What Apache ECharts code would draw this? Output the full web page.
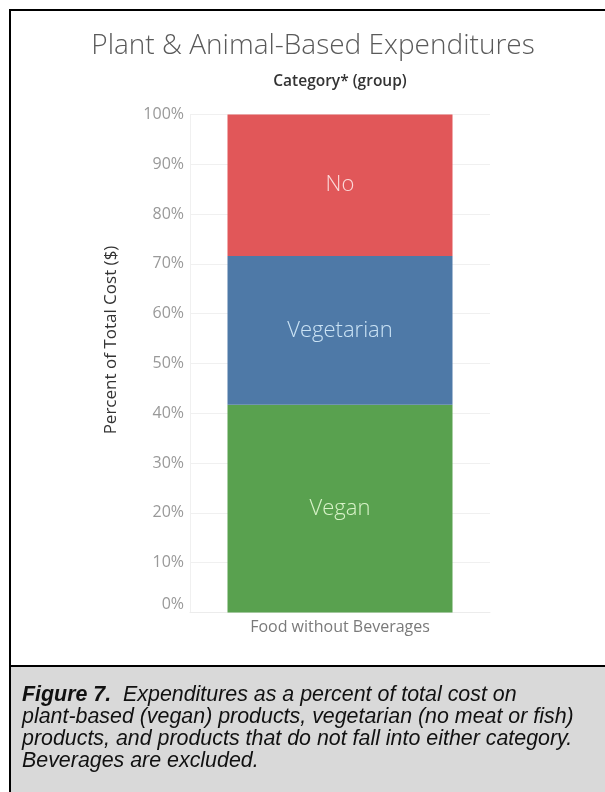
<!DOCTYPE html>
<html>
<head>
<meta charset="utf-8">
<script src="https://cdn.jsdelivr.net/npm/echarts@6/dist/echarts.min.js"></script>
<style>
  html, body { margin: 0; padding: 0; background: #fff; }
  #chart { width: 605px; height: 792px; }
</style>
</head>
<body>
<div id="chart"></div>
<script>
// ---- data ----
const categories = ['Food without Beverages'];
const seriesNames = ['Vegan', 'Vegetarian', 'No'];
const veganValues = [41.7];
const vegetarianValues = [29.9];
const noValues = [28.4];
const yTicks = { min: 0, max: 100, interval: 10 };

const colors = { Vegan: '#59A14F', Vegetarian: '#4E79A7', No: '#E15759' };
const labelColors = { Vegan: '#d8f3c8', Vegetarian: '#cbe3f5', No: '#fcdada' };
const valuesByName = { Vegan: veganValues, Vegetarian: vegetarianValues, No: noValues };

const chart = echarts.init(document.getElementById('chart'), null, { renderer: 'canvas' });

const series = seriesNames.map(name => ({
  name: name,
  type: 'bar',
  stack: 'total',
  barWidth: '75%',
  data: valuesByName[name],
  itemStyle: { color: colors[name] },
  label: {
    show: true,
    position: 'inside',
    formatter: name,
    color: labelColors[name],
    fontSize: 22,
    fontWeight: 300,
    fontFamily: 'Open Sans'
  },
  emphasis: { disabled: true }
}));

const option = {
  animation: false,
  backgroundColor: '#ffffff',
  title: {
    text: 'Plant & Animal-Based Expenditures',
    left: 308,
    top: 27,
    textAlign: 'center',
    textStyle: { fontFamily: 'Open Sans', fontWeight: 300, fontSize: 28, color: '#5a5a5a' }
  },
  grid: { left: 190, right: 115, top: 114.5, bottom: 179.5 },
  xAxis: {
    type: 'category',
    data: categories,
    axisLine: { show: true, lineStyle: { color: '#ececec' } },
    axisTick: { show: false },
    axisLabel: { color: '#7a7a7a', fontSize: 16, fontFamily: 'Open Sans', margin: 7 }
  },
  yAxis: {
    type: 'value',
    min: yTicks.min,
    max: yTicks.max,
    interval: yTicks.interval,
    axisLine: { show: true, lineStyle: { color: '#f0f0f0' } },
    axisTick: { show: false },
    splitLine: { lineStyle: { color: '#f0f0f0' } },
    axisLabel: {
      formatter: '{value}%',
      color: '#999999',
      fontSize: 16,
      fontFamily: 'Open Sans',
      margin: 6,
      verticalAlignMinLabel: 'bottom'
    }
  },
  graphic: [
    {
      type: 'rect', z: -1, silent: true,
      shape: { x: 10, y: 10, width: 600, height: 790 },
      style: { fill: 'none', stroke: '#000', lineWidth: 2 }
    },
    {
      type: 'rect', z: 0, silent: true,
      shape: { x: 10, y: 666, width: 600, height: 140 },
      style: { fill: '#d9d9d9', stroke: '#000', lineWidth: 2 }
    },
    {
      type: 'text', silent: true,
      x: 340, y: 82,
      style: {
        text: 'Category* (group)',
        fontFamily: 'Open Sans', fontWeight: 600, fontSize: 15.5, fill: '#333',
        align: 'center', verticalAlign: 'middle'
      }
    },
    {
      type: 'text', silent: true,
      x: 111, y: 340, rotation: Math.PI / 2,
      style: {
        text: 'Percent of Total Cost ($)',
        fontFamily: 'Open Sans', fontSize: 17, fill: '#333',
        align: 'center', verticalAlign: 'middle'
      }
    },
    {
      type: 'text', silent: true,
      x: 22, y: 684,
      style: {
        text: '{b|Figure 7.}  Expenditures as a percent of total cost on\nplant-based (vegan) products, vegetarian (no meat or fish)\nproducts, and products that do not fall into either category.\nBeverages are excluded.',
        fontFamily: 'Liberation Sans', fontStyle: 'italic', fontSize: 21.4, lineHeight: 22, fill: '#111',
        rich: {
          b: { fontFamily: 'Liberation Sans', fontStyle: 'italic', fontWeight: 'bold', fontSize: 21.4, lineHeight: 22, fill: '#111' }
        }
      }
    }
  ],
  series: series
};

chart.setOption(option);
</script>
</body>
</html>
